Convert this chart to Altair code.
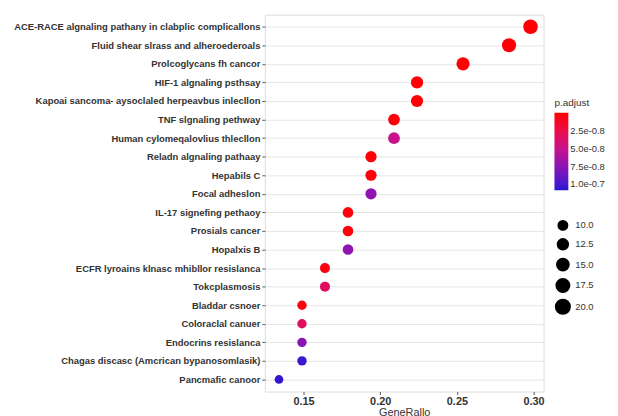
import altair as alt
import pandas as pd

pathways = [
    "ACE-RACE algnaling pathany in clabplic complicallons",
    "Fluid shear slrass and alheroederoals",
    "Prolcoglycans fh cancor",
    "HIF-1 algnaling psthsay",
    "Kapoai sancoma- aysoclaled herpeavbus inlecllon",
    "TNF slgnaling pethway",
    "Human cylomeqalovlius thlecllon",
    "Reladn algnaling pathaay",
    "Hepabils C",
    "Focal adheslon",
    "IL-17 signefing pethaoy",
    "Prosials cancer",
    "Hopalxis B",
    "ECFR lyroains klnasc mhibllor resislanca",
    "Tokcplasmosis",
    "Bladdar csnoer",
    "Coloraclal canuer",
    "Endocrins resislanca",
    "Chagas discasc (Amcrican bypanosomlasik)",
    "Pancmafic canoor",
]
gene_ratio = [0.298, 0.284, 0.254, 0.224, 0.224, 0.209, 0.209, 0.194, 0.194, 0.194,
              0.179, 0.179, 0.179, 0.164, 0.164, 0.149, 0.149, 0.149, 0.149, 0.134]
counts = [20, 19, 17, 15, 15, 14, 14, 13, 13, 13, 12, 12, 12, 11, 11, 10, 10, 10, 10, 9]
p_adjust = [1e-9, 1e-9, 1.5e-9, 2e-9, 2e-9, 3e-9, 5.0e-8, 3e-9, 3.5e-9, 7.3e-8,
            4e-9, 4e-9, 7.3e-8, 5e-9, 3.3e-8, 5e-9, 3.3e-8, 7.5e-8, 1.03e-7, 1.05e-7]
legend_values = [2.5e-8, 5e-8, 7.5e-8, 1e-7]

# colour stops of the p.adjust gradient (negated values, red = smallest p)
color_stops = [-1.08e-7, -1.0e-7, -7.5e-8, -5e-8, -2.5e-8, 0]
color_range = ["#2a14d0", "#4818d0", "#8a14b4", "#c8128c", "#ec0c48", "#ff0000"]

df = pd.DataFrame({
    "pathway": pathways,
    "GeneRatio": gene_ratio,
    "Count": counts,
    "padj": p_adjust,
})

# legend is drawn with the largest value on top, so colour by the negated value
label_expr = ("replace(replace(format(-datum.value, '.1e'), 'e-8', 'e-0.8'), "
              "'e-7', 'e-0.7')")

chart = alt.Chart(df).transform_calculate(
    negp="-datum.padj"
).mark_circle(opacity=1).encode(
    x=alt.X("GeneRatio:Q",
            scale=alt.Scale(domain=[0.1248, 0.3065], nice=False, zero=False),
            axis=alt.Axis(title="GeneRallo", values=[0.15, 0.20, 0.25, 0.30], format=".2f",
                          grid=False, tickSize=3, tickColor="#555", domain=False,
                          labelFontSize=11, labelFontWeight="bold", labelColor="#333",
                          titleFontSize=11, titleFontWeight="normal", titleColor="#333",
                          titlePadding=0, labelPadding=1)),
    y=alt.Y("pathway:N", sort=pathways,
            scale=alt.Scale(padding=0.65),
            axis=alt.Axis(title=None, grid=True, gridColor="#e6e6e6", tickSize=3,
                          tickColor="#555", domain=False, labelFontSize=9.5,
                          labelFontWeight="bold", labelColor="#333", labelPadding=2,
                          labelLimit=400)),
    color=alt.Color("negp:Q",
                    scale=alt.Scale(domain=color_stops, range=color_range,
                                    interpolate="rgb"),
                    legend=alt.Legend(title="p.adjust", values=[-v for v in legend_values],
                                      labelExpr=label_expr, orient="none",
                                      legendX=292, legendY=84, gradientLength=78,
                                      gradientThickness=14, labelFontSize=9.5,
                                      titleFontSize=10, titleFontWeight="normal",
                                      titleColor="#333", labelColor="#333")),
    size=alt.Size("Count:Q",
                  scale=alt.Scale(domain=[10, 20], range=[90, 215]),
                  legend=alt.Legend(title="", values=[10, 12.5, 15, 17.5, 20], format=".1f",
                                    orient="none", legendX=292, legendY=207,
                                    symbolFillColor="black", symbolStrokeColor="black",
                                    symbolType="circle", labelFontSize=9.5,
                                    labelColor="#333", rowPadding=1)),
).properties(
    width=281, height=380
).configure_view(
    stroke="#555", strokeWidth=1
).configure(
    background="white", font="Liberation Sans"
)

chart.save("out.html", embed_options={"renderer": "svg", "actions": False})
